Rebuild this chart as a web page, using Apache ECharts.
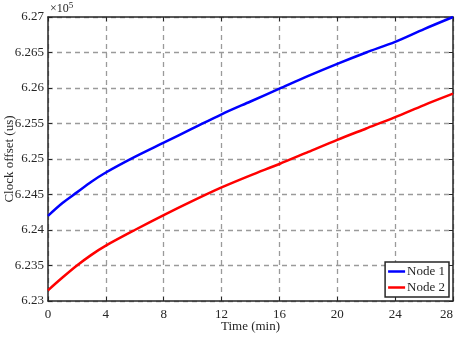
<!DOCTYPE html>
<html>
<head>
<meta charset="utf-8">
<script src="https://cdn.jsdelivr.net/npm/echarts@6/dist/echarts.min.js"></script>
<style>
  html, body { margin: 0; padding: 0; background: #fff; }
  #chart { width: 458px; height: 337px; }
</style>
</head>
<body>
<div id="chart"></div>
<script>
// 时间 (min)
const time = [0, 1, 2, 3, 4, 6, 8, 10, 12, 14, 16, 18, 20, 22, 24, 26, 28];
// 时钟偏移 (×10^5 us)
const node1 = [6.2420, 6.2438, 6.2453, 6.2468, 6.2481, 6.2503, 6.2523, 6.2543, 6.2563, 6.2581, 6.2599, 6.2617, 6.2634, 6.2650, 6.2665, 6.2683, 6.2700];
const node2 = [6.2315, 6.2333, 6.2350, 6.2365, 6.2378, 6.2400, 6.2421, 6.2441, 6.2460, 6.2477, 6.2493, 6.2510, 6.2527, 6.2543, 6.2559, 6.2576, 6.2592];
const seriesNames = ['Node 1', 'Node 2'];
const seriesColors = ['#0000ff', '#ff0000'];

const font = 'Liberation Serif';
const axisColor = '#262626';

const pair = arr => arr.map((v, i) => [time[i], v]);

const axisBase = (show) => ({
  axisLine: { show: true, onZero: false, lineStyle: { color: axisColor, width: 1.5 } },
  axisTick: { show: true, inside: true, length: 4, lineStyle: { color: axisColor, width: 1 } },
  axisLabel: { show: show, color: axisColor, fontFamily: font, fontSize: 13 },
  splitLine: { show: false }
});

const gridLine = {
  show: true,
  lineStyle: { color: '#9a9a9a', width: 1.3, type: [5, 4] }
};

const xMain = Object.assign(axisBase(true), {
  type: 'value', min: 0, max: 28, interval: 4, position: 'bottom',
  name: 'Time (min)', nameLocation: 'middle', nameGap: 19, nameMoveOverlap: false,
  nameTextStyle: { color: axisColor, fontFamily: font, fontSize: 13 },
  splitLine: gridLine
});
xMain.axisLabel.margin = 7;
xMain.axisLabel.alignMaxLabel = 'right';

const yMain = Object.assign(axisBase(true), {
  type: 'value', min: 6.23, max: 6.27, interval: 0.005, position: 'left',
  name: 'Clock offset (us)', nameLocation: 'middle', nameGap: 32, nameMoveOverlap: false,
  nameTextStyle: { color: axisColor, fontFamily: font, fontSize: 13 },
  splitLine: gridLine
});
yMain.axisLabel.margin = 4;
yMain.axisLabel.formatter = v => String(+v.toFixed(3));

const xTop = Object.assign(axisBase(false), { type: 'value', min: 0, max: 28, interval: 4, position: 'top' });
const yRight = Object.assign(axisBase(false), { type: 'value', min: 6.23, max: 6.27, interval: 0.005, position: 'right' });

const series = [node1, node2].map((d, i) => ({
  name: seriesNames[i],
  type: 'line',
  data: pair(d),
  symbol: 'none',
  smooth: 0.3,
  xAxisIndex: 0,
  yAxisIndex: 0,
  lineStyle: { color: seriesColors[i], width: 2.5 },
  itemStyle: { color: seriesColors[i] }
}));

const options = {
  animation: false,
  backgroundColor: '#fff',
  grid: { left: 48, right: 5, top: 17, bottom: 36, containLabel: false, outerBoundsMode: 'none' },
  xAxis: [xMain, xTop],
  yAxis: [yMain, yRight],
  legend: {
    data: seriesNames,
    orient: 'vertical',
    right: 9,
    top: 262,
    icon: 'rect',
    itemWidth: 17,
    itemHeight: 2.5,
    itemGap: 3,
    padding: [3, 4, 3, 3],
    backgroundColor: '#fff',
    borderColor: axisColor,
    borderWidth: 1.5,
    textStyle: { color: axisColor, fontFamily: font, fontSize: 13, padding: [0, 0, 0, -3] }
  },
  graphic: [{
    type: 'text',
    left: 50,
    top: 1,
    style: {
      text: '×10{sup|5}',
      fill: axisColor,
      font: '12px "Liberation Serif"',
      rich: { sup: { fontSize: 9, fontFamily: font, verticalAlign: 'top', padding: [0, 0, 7, 0] } }
    }
  }],
  series: series
};

const chart = echarts.init(document.getElementById('chart'), null, { renderer: 'canvas' });
chart.setOption(options, true);
</script>
</body>
</html>
